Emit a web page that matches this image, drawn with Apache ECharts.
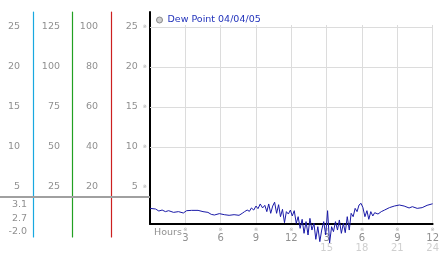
<!DOCTYPE html>
<html><head><meta charset="utf-8">
<script src="https://cdn.jsdelivr.net/npm/echarts@6/dist/echarts.min.js"></script>
<style>html,body{margin:0;padding:0;background:#fff}#c{width:442px;height:253px}</style>
</head><body><div id="c"></div>
<script>
const seriesName = 'Dew Point 04/04/05';
const hours = [0,0.47,0.75,1.03,1.31,1.58,2.0,2.42,2.83,3.11,3.53,4.08,4.5,4.92,5.2,5.47,5.89,6.31,6.72,7.14,7.56,7.83,8.03,8.25,8.44,8.61,8.81,9.0,9.17,9.36,9.56,9.75,9.92,10.08,10.25,10.42,10.58,10.75,10.92,11.08,11.25,11.42,11.58,11.75,11.92,12.08,12.25,12.42,12.58,12.75,12.92,13.08,13.25,13.42,13.58,13.75,13.92,14.08,14.25,14.42,14.58,14.75,14.92,15.08,15.25,15.42,15.58,15.75,15.92,16.08,16.25,16.42,16.58,16.75,16.92,17.08,17.25,17.42,17.58,17.75,17.92,18.08,18.25,18.42,18.58,18.75,18.92,19.08,19.36,19.64,19.92,20.33,20.75,21.17,21.58,22.0,22.28,22.69,23.11,23.53,23.94,24.0];
const dew = [2.33,2.25,2.0,2.12,1.92,2.04,1.83,1.92,1.75,2.04,2.08,2.08,1.92,1.83,1.58,1.5,1.67,1.54,1.46,1.54,1.46,1.71,1.92,2.12,1.96,2.38,2.12,2.62,2.29,2.88,2.38,2.71,1.92,2.88,1.71,2.62,3.1,1.71,2.79,1.29,2.21,0.54,1.92,1.62,2.12,1.38,2.04,0.46,1.29,-0.17,0.96,-0.79,0.67,-1.0,1.08,-0.38,0.46,-1.54,0.04,-1.83,-0.38,0.67,-1.0,2.04,-2.0,0.04,-0.58,0.67,-0.38,0.88,-0.79,0.46,-0.71,1.29,-0.38,1.71,1.29,2.33,1.92,2.75,2.96,2.42,1.29,2.04,0.96,1.92,1.38,1.79,1.62,1.92,2.12,2.42,2.62,2.75,2.62,2.38,2.54,2.33,2.42,2.71,2.88,2.9];
const dewTicks = [5,10,15,20,25];
const col1Ticks = [5,10,15,20,25];
const col2Ticks = [25,50,75,100,125];
const col3Ticks = [20,40,60,80,100];
const gridValues = [10,15,20,25];
const stats = ['3.1','2.7','-2.0'];
const hourInterval = 3;

const FONT = 'DejaVu Sans';
const LBL = '#909090';
const chart = echarts.init(document.getElementById('c'), null, {renderer:'canvas'});

const sideCols = [
  {left:111, color:'#cc2020', ticks:col3Ticks, scale:4, margin:13},
  {left:72,  color:'#22a022', ticks:col2Ticks, scale:5, margin:12},
  {left:33,  color:'#18a8e0', ticks:col1Ticks, scale:1, margin:13}
];

const grids = [
  {left:150, top:25, width:288, height:199},
  {left:150, top:12, width:288, height:212}
];
const xAxes = [
  {type:'value', gridIndex:0, min:0, max:24, interval:hourInterval,
   axisLine:{show:true, lineStyle:{color:'#000', width:2}},
   axisTick:{show:false},
   splitLine:{show:true, lineStyle:{color:'#dcdcdc', width:1}},
   axisLabel:{margin:3, color:LBL, fontFamily:FONT,
     formatter:function(v){
       if (v===0) return '{h|Hours}';
       if (v % hourInterval) return '';
       const d = v % 12 === 0 ? 12 : v % 12;
       return '{m|※}\n{d|'+d+'}' + (v>12 ? '\n{s|'+v+'}' : '');
     },
     rich:{
       h:{fontSize:9.5, color:LBL, fontFamily:FONT, lineHeight:11, padding:[0,0,0,36]},
       m:{fontSize:5, color:'#aaa', fontFamily:FONT, lineHeight:6},
       d:{fontSize:10, color:LBL, fontFamily:FONT, lineHeight:10},
       s:{fontSize:10, color:'#cfcfcf', fontFamily:FONT, lineHeight:10}
     }}
  },
  {type:'value', gridIndex:1, min:0, max:24, show:false}
];
const yAxes = [
  {type:'value', gridIndex:0, min:0.375, max:25.25,
   axisLine:{show:false}, axisTick:{show:false}, splitLine:{show:false},
   axisLabel:{show:true, customValues:dewTicks, margin:3, fontFamily:FONT,
     formatter:function(v){ return '{v|'+v+'}{m|※}'; },
     rich:{v:{fontSize:9.5, color:LBL, fontFamily:FONT}, m:{fontSize:5, color:'#aaa', fontFamily:FONT, padding:[0,0,0,5]}}}
  },
  {type:'value', gridIndex:1, min:0, max:1, position:'left',
   axisLine:{show:true, lineStyle:{color:'#000', width:2}},
   axisTick:{show:false}, splitLine:{show:false}, axisLabel:{show:false}}
];
sideCols.forEach(function(c){
  const gi = grids.length;
  grids.push({left:c.left, top:12, width:20, height:225});
  xAxes.push({type:'value', gridIndex:gi, min:0, max:1, show:false});
  yAxes.push({type:'value', gridIndex:gi, position:'left', offset:0,
    min:-1.25*c.scale, max:26.875*c.scale,
    axisLine:{show:true, lineStyle:{color:c.color, width:1.2}},
    axisTick:{show:false}, splitLine:{show:false},
    axisLabel:{show:true, customValues:c.ticks, margin:c.margin, color:LBL, fontFamily:FONT, fontSize:9.5}});
});

const option = {
  animation:false,
  backgroundColor:'#fff',
  legend:{
    left:156, top:15, padding:0, itemWidth:6, itemHeight:6, itemGap:5, icon:'circle',
    textStyle:{color:'#2233bb', fontFamily:FONT, fontSize:9.5},
    data:[{name:seriesName, itemStyle:{color:'#cfcfcf', borderColor:'#8a8a8a', borderWidth:1}}]
  },
  grid:grids,
  xAxis:xAxes,
  yAxis:yAxes,
  graphic:[
    {type:'line', shape:{x1:0, y1:197, x2:150, y2:197}, style:{stroke:'#a0a0a0', lineWidth:2}, z:5}
  ].concat(stats.map(function(s,i){
    return {type:'text', right:442-27, top:200+i*13.5, style:{text:s, fill:LBL, font:'9.5px "DejaVu Sans"', textAlign:'right'}};
  })),
  series:[
    {type:'line', name:'grid', xAxisIndex:0, yAxisIndex:0, data:[], z:1, silent:true,
     markLine:{silent:true, symbol:'none', label:{show:false},
       lineStyle:{color:'#dcdcdc', width:1, type:'solid'},
       data:gridValues.map(function(v){return {yAxis:v};})}},
    {type:'line', name:seriesName, xAxisIndex:0, yAxisIndex:0, z:3,
     showSymbol:false, clip:false,
     lineStyle:{color:'#1a1aa8', width:1}, itemStyle:{color:'#1a1aa8'},
     data:hours.map(function(h,i){return [h, dew[i]];})}
  ]
};
chart.setOption(option);
</script></body></html>
